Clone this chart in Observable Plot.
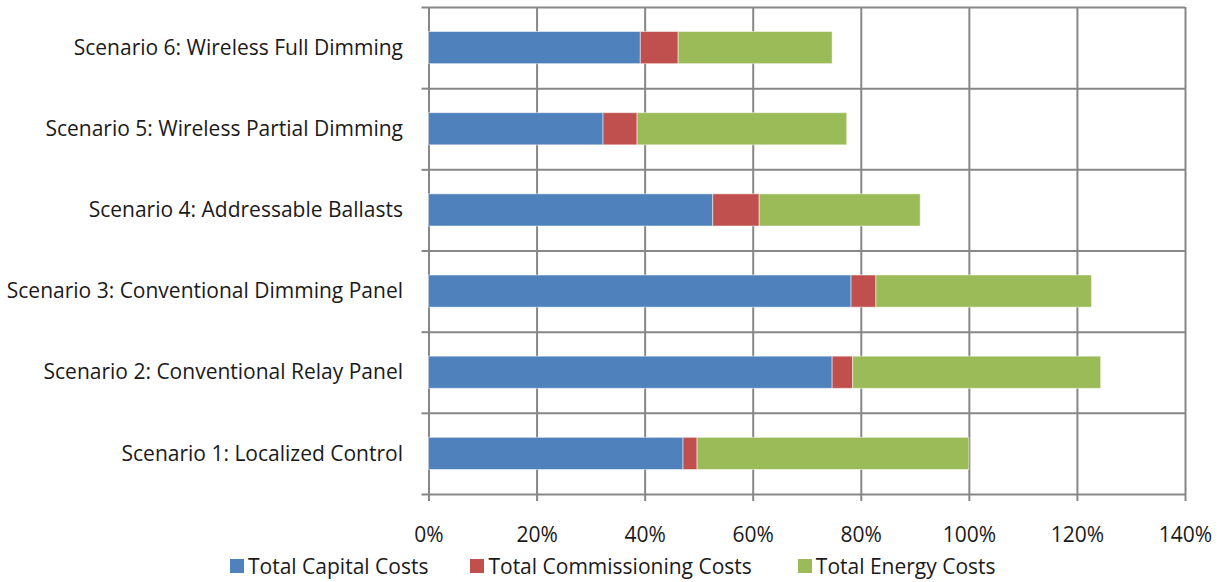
<!DOCTYPE html>
<html>
<head>
<meta charset="utf-8">
<script src="https://cdn.jsdelivr.net/npm/d3@7"></script>
<script src="https://cdn.jsdelivr.net/npm/@observablehq/plot@0.6"></script>
<style>
  html, body { margin: 0; padding: 0; background: #fff; }
  body { width: 1221px; height: 582px; overflow: hidden; font-family: "Open Sans", Lato, sans-serif; }
  #legend { display: flex; align-items: center; height: 28px; padding-left: 230px; font-size: 21px; color: #1a1a1a; }
  #legend .item { display: flex; align-items: center; }
  #legend .sw { width: 14px; height: 14px; margin-right: 4px; }
</style>
</head>
<body>
<div id="chart"></div>
<div id="legend"></div>
<script>
const scenarios = [
  "Scenario 1: Localized Control",
  "Scenario 2: Conventional Relay Panel",
  "Scenario 3: Conventional Dimming Panel",
  "Scenario 4: Addressable Ballasts",
  "Scenario 5: Wireless Partial Dimming",
  "Scenario 6: Wireless Full Dimming"
];
const seriesNames = ["Total Capital Costs", "Total Commissioning Costs", "Total Energy Costs"];
const seriesColors = ["#4F81BD", "#C0504D", "#9BBB59"];
const capital       = [47.1, 74.7, 78.2, 52.6, 32.3, 39.2];
const commissioning = [2.6, 3.8, 4.6, 8.6, 6.3, 7.0];
const energy        = [50.3, 45.9, 39.9, 29.8, 38.8, 28.5];
const xTicks = [0, 20, 40, 60, 80, 100, 120, 140];

const seriesValues = [capital, commissioning, energy];
const rows = [];
scenarios.forEach((name, i) => {
  let acc = 0;
  seriesValues.forEach((vals, s) => {
    rows.push({scenario: name, idx: i, series: seriesNames[s], x1: acc, x2: acc + vals[i]});
    acc += vals[i];
  });
});
const boundaries = d3.range(scenarios.length + 1);
const centers = scenarios.map((_, i) => i + 0.5);
const gridColor = "#878787";

const chart = Plot.plot({
  width: 1221,
  height: 552,
  marginLeft: 428.5,
  marginRight: 36,
  marginTop: 7,
  marginBottom: 58,
  style: {fontFamily: "'Open Sans', Lato, sans-serif", fontSize: "21px", color: "#1a1a1a", background: "#fff"},
  x: {domain: [0, 140]},
  y: {domain: [0, scenarios.length]},
  color: {domain: seriesNames, range: seriesColors},
  marks: [
    Plot.gridX(xTicks, {stroke: gridColor, strokeOpacity: 1, strokeWidth: 2}),
    Plot.ruleY(boundaries, {stroke: gridColor, strokeWidth: 2}),
    Plot.axisY(boundaries, {tickSize: 7, tickFormat: () => "", stroke: gridColor, strokeWidth: 2, label: null}),
    Plot.axisY(centers, {tickSize: 0, tickPadding: 26, tickFormat: d => scenarios[Math.floor(d)], label: null, fontSize: 21}),
    Plot.axisX(xTicks, {tickSize: 7, tickPadding: 26, stroke: gridColor, strokeWidth: 2, tickFormat: d => d + "%", label: null, fontSize: 21}),
    Plot.rectX(rows, {
      x1: "x1", x2: "x2",
      y1: "idx", y2: d => d.idx + 1,
      fill: "series",
      insetTop: 24.5, insetBottom: 24.5,
      stroke: "#ffffff", strokeOpacity: 0.5, strokeWidth: 1
    })
  ]
});
document.getElementById("chart").appendChild(chart);

const legend = document.getElementById("legend");
const gaps = [42, 46, 0];
seriesNames.forEach((n, i) => {
  const it = document.createElement("div");
  it.className = "item";
  it.style.marginRight = gaps[i] + "px";
  it.innerHTML = `<div class="sw" style="background:${seriesColors[i]}"></div><span>${n}</span>`;
  legend.appendChild(it);
});
</script>
</body>
</html>
